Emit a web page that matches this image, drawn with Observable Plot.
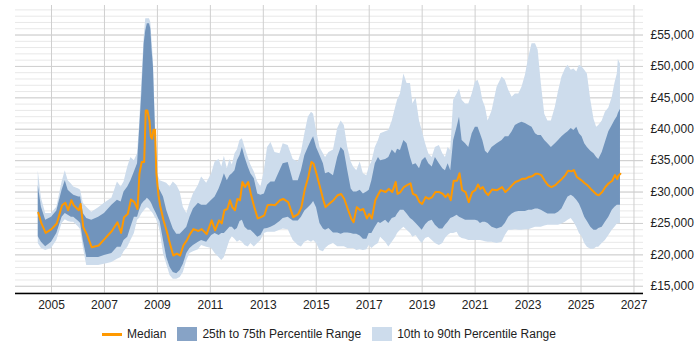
<!DOCTYPE html>
<html>
<head>
<meta charset="utf-8">
<script src="https://cdn.jsdelivr.net/npm/d3@7"></script>
<script src="https://cdn.jsdelivr.net/npm/@observablehq/plot@0.6"></script>
<style>
  html, body { margin: 0; padding: 0; background: #fff; }
  body { width: 700px; height: 350px; overflow: hidden; font-family: "Liberation Sans", Arial, sans-serif; }
  #legend { width: 658px; height: 28px; display: flex; justify-content: center; align-items: center; gap: 11px; font-size: 12px; color: #222; }
  .item { display: flex; align-items: center; gap: 5px; }
  .sw-line { width: 20px; height: 3px; background: #ff9900; }
  .sw-box { width: 20px; height: 14px; }
</style>
</head>
<body>
<div id="chart"></div>
<div id="legend">
  <div class="item"><div class="sw-line"></div><span>Median</span></div>
  <div class="item"><div class="sw-box" style="background:#87a3c6"></div><span>25th to 75th Percentile Range</span></div>
  <div class="item"><div class="sw-box" style="background:#cddcec"></div><span>10th to 90th Percentile Range</span></div>
</div>
<script>
const years = [2004.50,2004.62,2004.78,2005.00,2005.20,2005.40,2005.52,2005.63,2005.75,2005.84,2006.03,2006.10,2006.20,2006.33,2006.52,2006.78,2007.00,2007.28,2007.49,2007.63,2007.74,2007.88,2008.00,2008.13,2008.25,2008.32,2008.41,2008.50,2008.56,2008.62,2008.70,2008.75,2008.80,2008.85,2008.91,2008.96,2009.04,2009.10,2009.23,2009.35,2009.48,2009.60,2009.73,2009.86,2009.98,2010.11,2010.23,2010.36,2010.55,2010.67,2010.86,2011.05,2011.18,2011.33,2011.43,2011.53,2011.64,2011.74,2011.83,2011.93,2012.02,2012.12,2012.21,2012.31,2012.43,2012.53,2012.66,2012.79,2012.91,2013.04,2013.16,2013.29,2013.44,2013.63,2013.75,2013.94,2014.13,2014.32,2014.44,2014.57,2014.70,2014.82,2014.90,2015.01,2015.14,2015.27,2015.35,2015.48,2015.65,2015.81,2015.94,2016.06,2016.19,2016.32,2016.41,2016.53,2016.66,2016.78,2016.91,2017.00,2017.10,2017.23,2017.35,2017.43,2017.62,2017.74,2017.87,2018.00,2018.07,2018.18,2018.31,2018.43,2018.56,2018.65,2018.77,2018.90,2019.00,2019.13,2019.25,2019.38,2019.50,2019.65,2019.78,2019.88,2019.98,2020.08,2020.19,2020.32,2020.41,2020.51,2020.64,2020.76,2020.89,2021.01,2021.11,2021.20,2021.29,2021.39,2021.49,2021.64,2021.83,2022.02,2022.14,2022.27,2022.40,2022.52,2022.65,2022.77,2022.90,2023.03,2023.15,2023.28,2023.38,2023.50,2023.63,2023.75,2023.88,2024.03,2024.15,2024.28,2024.41,2024.51,2024.63,2024.73,2024.84,2024.94,2025.04,2025.14,2025.24,2025.37,2025.49,2025.59,2025.67,2025.80,2025.92,2026.05,2026.18,2026.28,2026.37,2026.41,2026.49];

const p10 = [21800,21000,20700,21000,22300,25000,25600,25300,25200,25200,24400,24000,21200,18300,18300,18300,18500,18800,19300,19600,20500,21200,22300,23400,25500,25800,26500,27000,27300,27500,27300,27000,26800,26500,26000,25700,24800,23800,20200,18500,16700,16100,16100,16400,17200,19100,20200,20500,20800,21500,21200,21000,20200,19600,19100,19600,21000,22300,22900,22500,22000,22300,22000,21500,21250,21800,21250,21800,22300,23400,23600,23600,23600,23900,24100,24000,22300,21500,21250,22000,22300,22000,22300,21800,20700,20500,21000,21500,21800,21300,21300,21300,21000,21000,21000,20700,20800,20700,20800,21500,21000,21500,21800,22800,22000,21250,22000,22800,23400,23900,24400,23900,23400,22800,23100,22300,21800,22600,22800,22300,21800,21500,21800,22600,23100,23400,23400,23600,22900,22600,22500,22300,22300,22300,22300,22300,22200,22100,22000,22000,21800,22000,23100,23900,23900,24000,23900,23900,24000,24000,24200,24400,24400,24400,24600,24700,24700,24700,24700,24900,25200,25500,25800,25200,24400,23400,22900,21800,21200,20900,20900,21200,21200,21800,22300,23100,23900,24400,24900,24900,25000];

const p25 = [22900,22000,21300,22000,23400,26000,26600,26300,26000,26000,25300,25000,22300,19600,19600,19600,19900,20200,21200,21200,22300,22800,24400,26000,26000,27000,28000,28500,28700,29000,28700,28400,28000,27500,27000,26600,25800,25300,22300,19600,18000,17200,17000,17500,18500,20200,21000,21500,22000,22300,22000,23100,23400,23100,23400,23400,23900,24400,24400,23900,24200,25300,25500,24400,23900,23900,23400,22800,23100,24100,24200,24400,24700,25300,25800,26000,25400,25400,26000,27000,27500,28000,28500,27500,25000,24100,23900,24200,23500,23500,23300,23500,23500,23400,23300,23300,23000,22500,22500,23400,23400,24400,25200,25000,25500,25000,25800,26000,26500,27100,27100,26500,25800,25500,25000,24400,23900,24800,25300,25500,24700,24100,24100,24700,25200,25800,26000,26300,26000,25800,25500,25500,25500,25500,25400,25000,25200,25200,25000,24400,24100,24400,25000,26000,26500,26800,26900,26900,26900,27100,27100,27300,27300,27100,26800,26500,26500,26500,26800,27300,28400,29200,29500,29200,28700,28100,27100,26000,25300,24400,23900,23900,24200,24400,25200,26000,27100,27600,27900,27900,27900];

const median = [26700,25000,23500,24100,25000,27900,28300,27100,28700,27900,27100,28100,24400,23300,21200,21500,22500,23800,25200,23500,26000,26500,28800,28400,27300,32900,34800,34800,43000,43000,41400,38800,38500,39900,39900,33000,29500,27900,25500,23800,21700,19900,20200,19900,21500,22300,23300,24100,23800,24100,23300,25500,23900,25500,25000,27100,27300,28700,27600,27100,28900,28700,31600,30800,31600,29700,27600,25800,26000,26300,27900,28000,27900,28700,28900,28400,26000,26500,27600,30500,32400,34800,34500,32900,30800,28700,27600,28100,28700,29500,29700,28900,27300,25800,25200,27600,27100,27300,25800,26500,25800,28700,29700,30300,30000,30500,30000,31600,29700,30000,30800,31100,31400,29700,29500,28400,28100,29200,28900,29200,30000,30000,29700,29200,29700,28700,31800,31800,33000,30300,30000,28400,30000,30300,31200,30500,30800,30000,29500,30400,30300,30800,30000,30500,31100,31600,31800,32100,32100,32400,32500,32900,32900,32700,31800,31100,30800,31100,31600,32100,32700,33400,33300,33500,32400,32100,31800,31400,31100,30500,30000,29600,29500,30000,30800,31400,31800,32700,32100,32600,32900];

const p75 = [31000,27600,25500,26000,27000,30300,31800,30300,29800,29500,29200,29200,26600,25800,25500,26000,26600,27900,28700,28400,30000,30800,31800,33200,34500,39300,45600,53600,55700,56800,56800,56000,52500,49900,41900,35500,30800,30300,29200,27100,25500,24100,23300,23300,23800,24400,26000,27300,28200,27900,27900,28700,29200,30500,31600,32900,31800,32600,32900,33400,35000,35800,37100,35500,34000,32900,32100,29700,29500,29700,31100,31600,31600,33400,34500,34700,31800,31800,33400,35800,37100,38200,38800,37100,35800,34500,32900,33100,32600,35500,37100,36500,33400,30500,30000,30000,30300,29700,30000,30300,31800,34500,35500,35000,35200,35500,36700,36100,36800,36600,38200,37700,35500,34300,34500,33700,35000,35500,34500,34000,35500,34500,33700,33400,34500,33400,38200,40300,41900,38200,37700,37100,39300,40300,40300,39300,38200,36500,36100,37100,37700,38200,38800,38800,39600,40600,40900,41100,40900,40600,40300,39300,39000,39000,38200,37700,37100,37700,38200,38800,39300,39600,40100,39800,40300,39300,38800,37700,37100,36500,36100,35500,35200,36300,37900,39600,40600,41400,42000,42500,43200];

const p90 = [33400,29000,26600,26600,27600,31600,33400,31800,31300,30800,30500,30300,28200,27600,26800,27500,28200,29000,31600,30800,31600,34000,35500,35000,36100,40300,47300,54700,57600,57600,57600,57000,54000,51000,43000,37000,32500,31800,31600,31400,30800,31600,31100,30000,27600,26600,28200,29700,31100,32400,31400,32900,34800,35200,34000,35700,33700,35200,34300,36100,36700,38200,38500,37100,35500,34300,33200,31600,30800,33400,37100,37900,36300,36100,37700,37400,35200,34800,36300,39300,41900,42700,42400,39800,37100,36100,35500,36300,36700,40100,41300,40600,37100,34800,34000,33400,34800,32900,32600,34000,34800,37100,38200,39300,39600,39800,41300,43500,44600,45600,48800,47300,47300,44000,45000,41300,39800,37700,36100,35500,37100,37400,36100,35500,37100,36600,44600,45600,46400,44600,44000,44000,45600,47500,47800,46700,44600,43500,41300,42900,46700,48300,47800,46200,45100,45600,45600,46700,48600,51500,53600,53600,52600,47300,42400,41300,41300,43500,46000,48300,49600,50200,49400,49600,49100,50200,49900,49400,48800,44600,41600,40300,40600,41300,42700,43400,45100,47300,48800,51100,50400];

const xTicks = [2005,2007,2009,2011,2013,2015,2017,2019,2021,2023,2025,2027];
const yTicks = [15000,20000,25000,30000,35000,40000,45000,50000,55000];
const yMinor = d3.range(14000, 60000, 1000);

const rows = years.map((y, i) => ({year: y, p10: p10[i], p25: p25[i], median: median[i], p75: p75[i], p90: p90[i]}));

const chart = Plot.plot({
  width: 700,
  height: 320,
  marginLeft: 15,
  marginRight: 57,
  marginTop: 5,
  marginBottom: 27,
  style: {fontFamily: "'Liberation Sans', Arial, sans-serif", fontSize: "12px", color: "#222", background: "#fff"},
  x: {domain: [2003.64, 2027.36], ticks: xTicks, tickFormat: d => String(d), tickSize: 0, tickPadding: 7, label: null},
  y: {domain: [13850, 59700], axis: "right", ticks: yTicks, tickFormat: d => "£" + d3.format(",")(d), tickSize: 0, tickPadding: 7, label: null},
  marks: [
    Plot.ruleY(yMinor, {stroke: "#e8e8e8", strokeWidth: 1}),
    Plot.ruleY(yTicks, {stroke: "#cfcfcf", strokeWidth: 1}),
    Plot.ruleX(xTicks.slice(0, -1).concat([2027]), {stroke: "#cfcfcf", strokeWidth: 1}),
    Plot.areaY(rows, {x: "year", y1: "p10", y2: "p90", fill: "#cddcec", curve: "linear"}),
    Plot.areaY(rows, {x: "year", y1: "p25", y2: "p75", fill: "#7194bc", curve: "linear"}),
    Plot.lineY(rows, {x: "year", y: "median", stroke: "#ff9900", strokeWidth: 2}),
    Plot.ruleY([13850], {stroke: "#000", strokeWidth: 1.3})
  ]
});
document.getElementById("chart").appendChild(chart);
</script>
</body>
</html>
